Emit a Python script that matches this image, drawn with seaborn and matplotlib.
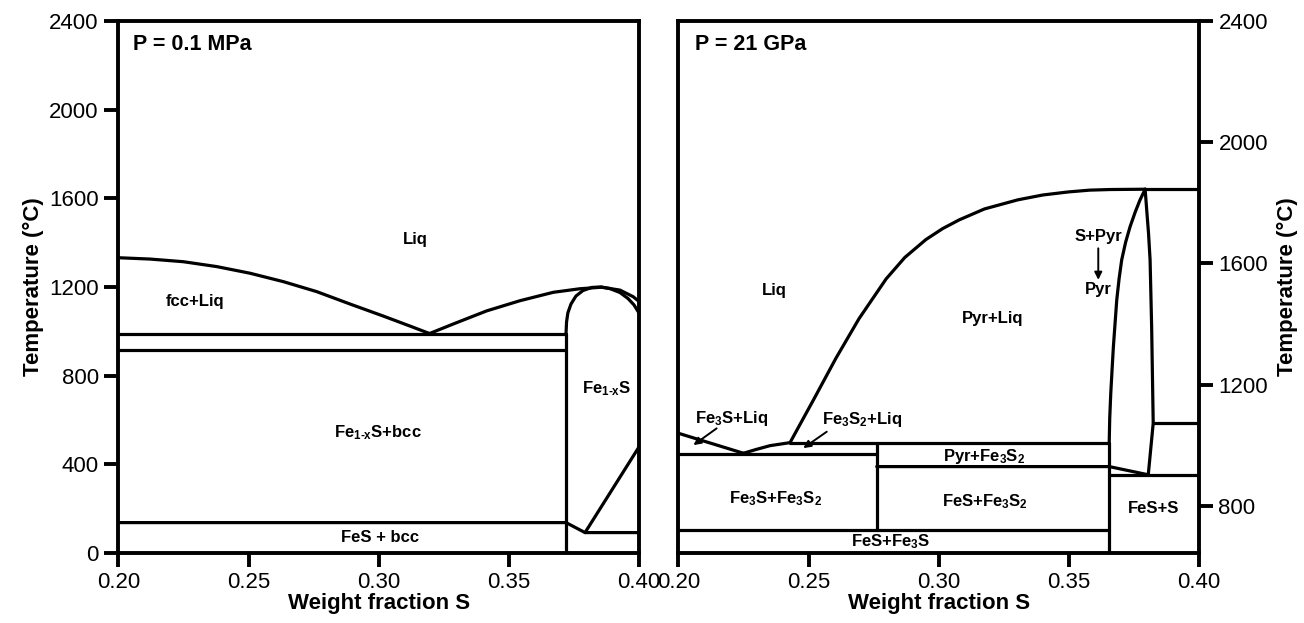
import matplotlib
matplotlib.use("Agg")
import matplotlib.pyplot as plt
import seaborn as sns

# ---------------- data: left panel (P = 0.1 MPa) ----------------
L_liq_left_x = [0.2000, 0.2122, 0.2250, 0.2378, 0.2506, 0.2634, 0.2762, 0.2890, 0.3017, 0.3126, 0.3195]
L_liq_left_T = [1332, 1326, 1314, 1292, 1262, 1224, 1179, 1123, 1069, 1021, 990]
L_liq_right_x = [0.3195, 0.3286, 0.3414, 0.3542, 0.3670, 0.3772, 0.3856, 0.3926, 0.3977, 0.4000]
L_liq_right_T = [990, 1033, 1092, 1138, 1176, 1192, 1199, 1186, 1156, 1134]
L_dome_x = [0.3719, 0.3721, 0.3726, 0.3738, 0.3757, 0.3784, 0.3818, 0.3853, 0.3887, 0.3926, 0.3957, 0.3980, 0.4000]
L_dome_T = [990, 1042, 1083, 1123, 1159, 1184, 1198, 1200, 1193, 1175, 1148, 1119, 1081]
L_eut_line_x = [0.200, 0.3719]; L_eut_line_T = [990, 990]
L_fcc_line_x = [0.200, 0.3719]; L_fcc_line_T = [914, 914]
L_vert_x = [0.3719, 0.3719]; L_vert_T = [0, 990]
L_low_x = [0.200, 0.3719, 0.3792, 0.4000]; L_low_T = [137, 137, 92, 92]
L_diag_x = [0.3792, 0.4000]; L_diag_T = [92, 480]

L_labels = ["Liq", "fcc+Liq", r"Fe$_{1\text{-}x}$S", r"Fe$_{1\text{-}x}$S+bcc", "FeS + bcc"]
L_label_x = [0.3140, 0.2294, 0.3875, 0.2997, 0.3005]
L_label_T = [1412, 1134, 743, 541, 72]

# ---------------- data: right panel (P = 21 GPa) ----------------
R_liq_fe3s_x = [0.200, 0.2250]; R_liq_fe3s_T = [1040, 974]
R_liq_fe3s2_x = [0.2250, 0.2301, 0.2352, 0.2429]; R_liq_fe3s2_T = [974, 987, 999, 1009]
R_liq_pyr_x = [0.2429, 0.2519, 0.2605, 0.2694, 0.2798, 0.2870, 0.2951, 0.3015, 0.3079, 0.3176,
               0.3304, 0.3400, 0.3497, 0.3580, 0.3658, 0.3793]
R_liq_pyr_T = [1009, 1150, 1287, 1418, 1549, 1620, 1679, 1715, 1744, 1780,
               1810, 1826, 1836, 1842, 1844, 1845]
R_top_x = [0.3793, 0.4000]; R_top_T = [1845, 1845]
R_dome_left_x = [0.3655, 0.3657, 0.3661, 0.3666, 0.3671, 0.3684, 0.3693, 0.3703, 0.3718, 0.3735, 0.3755, 0.3773, 0.3793]
R_dome_left_T = [1009, 1090, 1172, 1250, 1325, 1480, 1550, 1612, 1670, 1721, 1770, 1809, 1845]
R_dome_right_x = [0.3793, 0.3799, 0.3806, 0.3812, 0.3818, 0.3824, 0.3805]
R_dome_right_T = [1845, 1777, 1700, 1612, 1391, 1073, 903]
R_h1009_x = [0.2429, 0.3655]; R_h1009_T = [1009, 1009]
R_h970_x = [0.200, 0.2762]; R_h970_T = [970, 970]
R_h930_x = [0.2762, 0.3655, 0.3805]; R_h930_T = [930, 930, 903]
R_h721_x = [0.200, 0.3655]; R_h721_T = [721, 721]
R_h902_x = [0.3655, 0.4000]; R_h902_T = [903, 903]
R_h1073_x = [0.3824, 0.4000]; R_h1073_T = [1073, 1073]
R_v1_x = [0.2762, 0.2762]; R_v1_T = [721, 1009]
R_v2_x = [0.3655, 0.3655]; R_v2_T = [645, 1009]

R_labels = ["Liq", "Pyr+Liq", "S+Pyr", "Pyr", r"Fe$_3$S+Liq", r"Fe$_3$S$_2$+Liq",
            r"Pyr+Fe$_3$S$_2$", r"Fe$_3$S+Fe$_3$S$_2$", r"FeS+Fe$_3$S$_2$", "FeS+S", r"FeS+Fe$_3$S"]
R_label_x = [0.2370, 0.3208, 0.3613, 0.3613, 0.2205, 0.2704, 0.3176, 0.2373, 0.3176, 0.3826, 0.2815]
R_label_T = [1512, 1418, 1688, 1513, 1089, 1084, 963, 824, 815, 793, 684]

R_arrow_tail_x = [0.2147, 0.2570, 0.3613]
R_arrow_tail_T = [1056, 1045, 1650]
R_arrow_head_x = [0.2058, 0.2480, 0.3613]
R_arrow_head_T = [1001, 991, 1546]

# ---------------- axes / ticks ----------------
x_ticks = [0.20, 0.25, 0.30, 0.35, 0.40]
x_tick_labels = ["0.20", "0.25", "0.30", "0.35", "0.40"]
L_y_ticks = [0, 400, 800, 1200, 1600, 2000, 2400]
L_y_tick_labels = ["0", "400", "800", "1200", "1600", "2000", "2400"]
R_y_ticks = [800, 1200, 1600, 2000, 2400]
R_y_tick_labels = ["800", "1200", "1600", "2000", "2400"]
L_ylim = (0, 2400)
R_ylim = (645, 2400)
xlim = (0.20, 0.40)
titles = ["P = 0.1 MPa", "P = 21 GPa"]
title_x = [0.2056, 0.2064]
title_T = [2292, 2321]
xlabel = "Weight fraction S"
ylabel = "Temperature (°C)"

# ---------------- style ----------------
sns.set_style("ticks")
plt.rcParams['font.family'] = ['Liberation Sans', 'DejaVu Sans']
plt.rcParams['mathtext.fontset'] = 'custom'
plt.rcParams['mathtext.rm'] = 'Liberation Sans:bold'
plt.rcParams['mathtext.it'] = 'Liberation Sans:bold'
plt.rcParams['mathtext.bf'] = 'Liberation Sans:bold'
plt.rcParams['mathtext.default'] = 'bf'
plt.rcParams['text.color'] = 'black'
plt.rcParams['axes.labelcolor'] = 'black'
plt.rcParams['xtick.color'] = 'black'
plt.rcParams['ytick.color'] = 'black'
plt.rcParams['xtick.labelcolor'] = 'black'
plt.rcParams['ytick.labelcolor'] = 'black'
plt.rcParams['lines.solid_joinstyle'] = 'round'

LW = 2.3
SPINE_W = 2.8

fig = plt.figure(figsize=(13.04, 6.23), dpi=100)
axL = fig.add_axes([0.0907, 0.1124, 0.3995, 0.8539])
axR = fig.add_axes([0.5202, 0.1124, 0.3993, 0.8539])


def seg(ax, xs, ys):
    sns.lineplot(x=xs, y=ys, ax=ax, sort=False, estimator=None,
                 color='black', linewidth=LW, legend=False)


# left panel lines
for xs, ys in [(L_liq_left_x, L_liq_left_T), (L_liq_right_x, L_liq_right_T),
               (L_dome_x, L_dome_T), (L_eut_line_x, L_eut_line_T),
               (L_fcc_line_x, L_fcc_line_T), (L_vert_x, L_vert_T),
               (L_low_x, L_low_T), (L_diag_x, L_diag_T)]:
    seg(axL, xs, ys)

# right panel lines
for xs, ys in [(R_liq_fe3s_x, R_liq_fe3s_T), (R_liq_fe3s2_x, R_liq_fe3s2_T),
               (R_liq_pyr_x, R_liq_pyr_T), (R_top_x, R_top_T),
               (R_dome_left_x, R_dome_left_T), (R_dome_right_x, R_dome_right_T),
               (R_h1009_x, R_h1009_T), (R_h970_x, R_h970_T), (R_h930_x, R_h930_T),
               (R_h721_x, R_h721_T), (R_h902_x, R_h902_T), (R_h1073_x, R_h1073_T),
               (R_v1_x, R_v1_T), (R_v2_x, R_v2_T)]:
    seg(axR, xs, ys)

LABEL_FS = 12
for lab, x, t in zip(L_labels, L_label_x, L_label_T):
    axL.text(x, t, lab, ha='center', va='center', fontsize=LABEL_FS, fontweight='bold', color='black')
for lab, x, t in zip(R_labels, R_label_x, R_label_T):
    axR.text(x, t, lab, ha='center', va='center', fontsize=LABEL_FS, fontweight='bold', color='black')

for tx, tt, hx, ht in zip(R_arrow_tail_x, R_arrow_tail_T, R_arrow_head_x, R_arrow_head_T):
    axR.annotate('', xy=(hx, ht), xytext=(tx, tt),
                 arrowprops=dict(arrowstyle='-|>', color='black', lw=1.4,
                                 mutation_scale=11, shrinkA=0, shrinkB=0))

for ax, title, tx, tt in zip([axL, axR], titles, title_x, title_T):
    ax.text(tx, tt, title, ha='left', va='center', fontsize=15.5, fontweight='bold', color='black')

for ax, ylim, yt, ytl in [(axL, L_ylim, L_y_ticks, L_y_tick_labels),
                          (axR, R_ylim, R_y_ticks, R_y_tick_labels)]:
    ax.set_xlim(*xlim)
    ax.set_ylim(*ylim)
    ax.set_xticks(x_ticks)
    ax.set_xticklabels(x_tick_labels)
    ax.set_yticks(yt)
    ax.set_yticklabels(ytl)
    for s in ax.spines.values():
        s.set_visible(True)
        s.set_linewidth(SPINE_W)
        s.set_color('black')
    ax.tick_params(axis='both', which='major', direction='out', length=10,
                   width=SPINE_W, labelsize=16, color='black', labelcolor='black', pad=4)
    ax.set_xlabel(xlabel, fontsize=16, fontweight='bold', labelpad=0, color='black')
    ax.grid(False)
    ax.set_facecolor('white')

axL.set_ylabel(ylabel, fontsize=16, fontweight='bold', labelpad=4, color='black')
axR.yaxis.tick_right()
axR.yaxis.set_label_position('right')
axR.set_ylabel(ylabel, fontsize=16, fontweight='bold', labelpad=6, rotation=90, color='black')

fig.savefig('out.png', dpi=100, facecolor='white')
